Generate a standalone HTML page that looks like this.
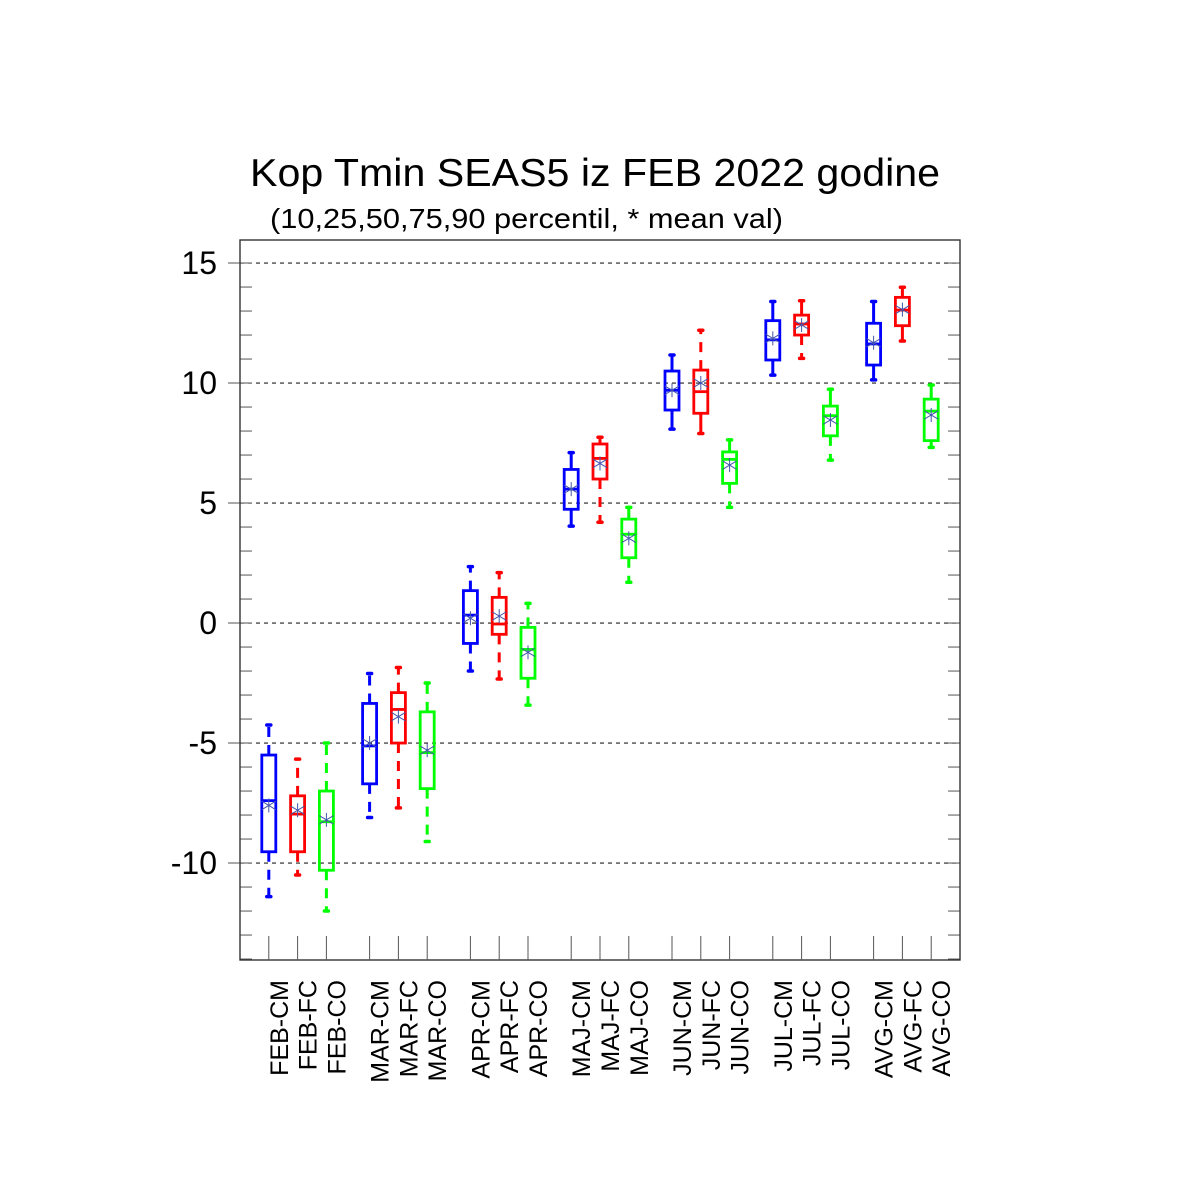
<!DOCTYPE html>
<html><head><meta charset="utf-8"><style>
html,body{margin:0;padding:0;background:#fff;}
svg{display:block;font-family:"Liberation Sans",Arial,sans-serif;}
</style></head><body>
<svg id="chart" width="1200" height="1200" viewBox="0 0 1200 1200">
<text x="250" y="186" font-size="39" textLength="690" lengthAdjust="spacingAndGlyphs">Kop Tmin SEAS5 iz FEB 2022 godine</text>
<text x="270" y="228" font-size="28" textLength="513" lengthAdjust="spacingAndGlyphs">(10,25,50,75,90 percentil, * mean val)</text>
<g id="grid"></g>
<g id="boxes"></g>
<g id="axes"></g>
</svg>
<script>
const categories=["FEB-CM","FEB-FC","FEB-CO","MAR-CM","MAR-FC","MAR-CO","APR-CM","APR-FC","APR-CO","MAJ-CM","MAJ-FC","MAJ-CO","JUN-CM","JUN-FC","JUN-CO","JUL-CM","JUL-FC","JUL-CO","AVG-CM","AVG-FC","AVG-CO"];
const p10=[-11.4,-10.5,-12.0,-8.1,-7.7,-9.1,-2.0,-2.33,-3.42,4.04,4.2,1.7,8.08,7.9,4.82,10.33,11.03,6.79,10.13,11.75,7.32];
const p25=[-9.53,-9.53,-10.3,-6.7,-5.0,-6.9,-0.85,-0.47,-2.3,4.74,6.0,2.72,8.875,8.74,5.82,10.96,12.0,7.8,10.75,12.39,7.6];
const p50=[-7.4,-7.96,-8.28,-5.12,-3.6,-5.4,0.33,-0.04,-1.1,5.58,6.86,3.7,9.7,9.64,6.82,11.8,12.46,8.64,11.63,13.04,8.83];
const p75=[-5.5,-7.2,-7.0,-3.35,-2.9,-3.7,1.35,1.07,-0.18,6.4,7.46,4.33,10.5,10.54,7.13,12.6,12.83,9.04,12.49,13.57,9.33];
const p90=[-4.25,-5.67,-5.0,-2.1,-1.85,-2.5,2.35,2.1,0.82,7.1,7.74,4.82,11.17,12.2,7.63,13.4,13.43,9.74,13.4,13.99,9.92];
const means=[-7.6,-7.8,-8.2,-5.0,-3.9,-5.3,0.2,0.29,-1.22,5.58,6.65,3.53,9.7,10.0,6.58,11.86,12.42,8.46,11.68,13.06,8.67];
const yTicks=[-10,-5,0,5,10,15];
const colors=["#0000ff","#ff0000","#00ff00"];
const L=240,R=960,T=240,B=960,yMin=-14.04,yMax=15.96;
const NS="http://www.w3.org/2000/svg";
function y(v){return B-(v-yMin)/(yMax-yMin)*(B-T);}
function xi(i){const g=Math.floor(i/3),k=i%3;return 1+g*3.5+k;}
function x(i){return L+xi(i)*(R-L)/25;}
function mk(tag,attrs,parent){const e=document.createElementNS(NS,tag);for(const k in attrs)e.setAttribute(k,attrs[k]);parent.appendChild(e);return e;}
const grid=document.getElementById('grid'),boxes=document.getElementById('boxes'),axes=document.getElementById('axes');
yTicks.forEach(t=>{
 const l=mk('line',{x1:L,x2:R,y1:y(t),y2:y(t),stroke:'#222','stroke-width':1.2,'stroke-dasharray':'4 4'},grid);
 
 
 const tx=mk('text',{x:217,y:y(t)+11,'font-size':32,'text-anchor':'end'},axes);
 tx.textContent=t;
 
 
});
for(let v=-14;v<=15;v++){
 const big=yTicks.includes(v);
 const t1=mk('line',{x1:big?228:L,x2:L+12,y1:y(v),y2:y(v),stroke:'#555','stroke-width':1},axes);
 
 
 const t2=mk('line',{x1:R-12,x2:R,y1:y(v),y2:y(v),stroke:'#555','stroke-width':1},axes);
 
 
}
const frame=mk('rect',{x:L,y:T,width:R-L,height:B-T,fill:'none',stroke:'#333','stroke-width':1.4},axes);


categories.forEach((c,i)=>{
 const cx=x(i),col=colors[i%3],w=7;
 const g=mk('g',{},boxes);
 
 
 const dU=(y(p75[i])-y(p90[i])>22)?'10 8':'none';
 const dL=(y(p10[i])-y(p25[i])>22)?'10 8':'none';
 mk('line',{x1:cx,x2:cx,y1:y(p75[i]),y2:y(p90[i]),stroke:col,'stroke-width':3,'stroke-dasharray':dU},g);
 mk('line',{x1:cx,x2:cx,y1:y(p25[i]),y2:y(p10[i]),stroke:col,'stroke-width':3,'stroke-dasharray':dL},g);
 mk('line',{x1:cx-2,x2:cx+2,y1:y(p90[i]),y2:y(p90[i]),stroke:col,'stroke-width':3.5,'stroke-linecap':'round'},g);
 mk('line',{x1:cx-2,x2:cx+2,y1:y(p10[i]),y2:y(p10[i]),stroke:col,'stroke-width':3.5,'stroke-linecap':'round'},g);
 mk('rect',{x:cx-w,y:y(p75[i]),width:2*w,height:y(p25[i])-y(p75[i]),fill:'none',stroke:col,'stroke-width':2.8},g);
 mk('line',{x1:cx-w,x2:cx+w,y1:y(p50[i]),y2:y(p50[i]),stroke:col,'stroke-width':2.8},g);
 const my=y(means[i]),s=7;
 mk('path',{d:`M${cx-s},${my-s*0.6}L${cx+s},${my+s*0.6}M${cx-s},${my+s*0.6}L${cx+s},${my-s*0.6}M${cx},${my-s}L${cx},${my+s}`,stroke:'#4455aa','stroke-width':1,fill:'none'},g);
 const tk=mk('line',{x1:cx,x2:cx,y1:936,y2:B,stroke:'#555','stroke-width':1},axes);
 
 
 const lb=mk('text',{x:0,y:0,'font-size':25,'text-anchor':'end',transform:`translate(${cx+19},980) rotate(-90)`},axes);
 lb.textContent=c;
 
 
});
</script>
</body></html>
